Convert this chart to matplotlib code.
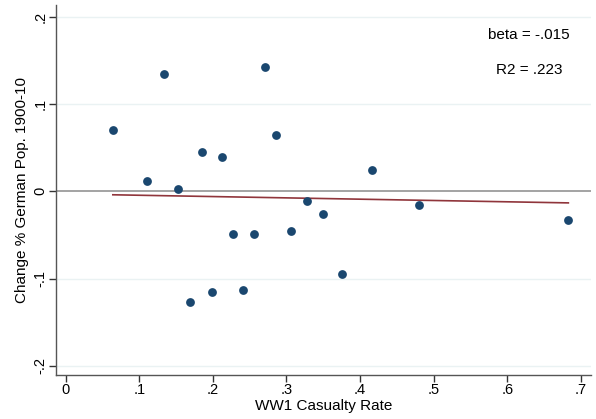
import matplotlib
matplotlib.use("Agg")
import matplotlib.pyplot as plt
import numpy as np

plt.rcParams['font.family'] = ['Liberation Sans', 'DejaVu Sans']

# casualty rate vs population change
casualty = [0.064, 0.110, 0.134, 0.153, 0.185, 0.212, 0.271, 0.286,
            0.169, 0.199, 0.227, 0.241, 0.256, 0.306, 0.328, 0.349,
            0.375, 0.416, 0.480, 0.683]
pop_change = [0.070, 0.012, 0.134, 0.003, 0.045, 0.039, 0.142, 0.064,
              -0.127, -0.115, -0.049, -0.113, -0.049, -0.045, -0.011, -0.026,
              -0.095, 0.025, -0.016, -0.033]

fit_beta = -0.015
fit_const = -0.003
annot = ["beta = -.015", "R2 = .223"]

xticks = [0, 0.1, 0.2, 0.3, 0.4, 0.5, 0.6, 0.7]
xtick_labels = ["0", ".1", ".2", ".3", ".4", ".5", ".6", ".7"]
yticks = [-0.2, -0.1, 0, 0.1, 0.2]
ytick_labels = ["-.2", "-.1", "0", ".1", ".2"]

fig = plt.figure(figsize=(5.96, 4.19), dpi=100)
ax = fig.add_axes([0.0935, 0.105, 0.898, 0.883])

ax.set_xlim(-0.0136, 0.7137)
ax.set_ylim(-0.2104, 0.2134)

for y in yticks:
    if y != 0:
        ax.axhline(y, color='#eaf2f3', lw=1, zorder=0)
ax.axhline(0, color='#8a8a8a', lw=1.1, zorder=1)

xs = np.array([min(casualty), max(casualty)])
ax.plot(xs, fit_const + fit_beta * xs, color='#90353b', lw=1.2, zorder=2)

ax.scatter(casualty, pop_change, s=40, color='#1a476f', zorder=3, linewidths=0)

ax.text(0.6295, 0.179, annot[0], ha='center', va='center', fontsize=11)
ax.text(0.6295, 0.139, annot[1], ha='center', va='center', fontsize=11)

ax.set_xticks(xticks)
ax.set_xticklabels(xtick_labels)
ax.set_yticks(yticks)
ax.set_yticklabels(ytick_labels, rotation=90, va='center')
ax.tick_params(axis='both', labelsize=10.5, length=5, width=1, color='#333333', pad=1)

ax.set_xlabel("WW1 Casualty Rate", fontsize=11, labelpad=1)
ax.set_ylabel("Change % German Pop. 1900-10", fontsize=11, labelpad=3)

for s in ['top', 'right']:
    ax.spines[s].set_visible(False)
for s in ['left', 'bottom']:
    ax.spines[s].set_color('#555555')
    ax.spines[s].set_linewidth(1)

fig.savefig("out.png", dpi=100)
